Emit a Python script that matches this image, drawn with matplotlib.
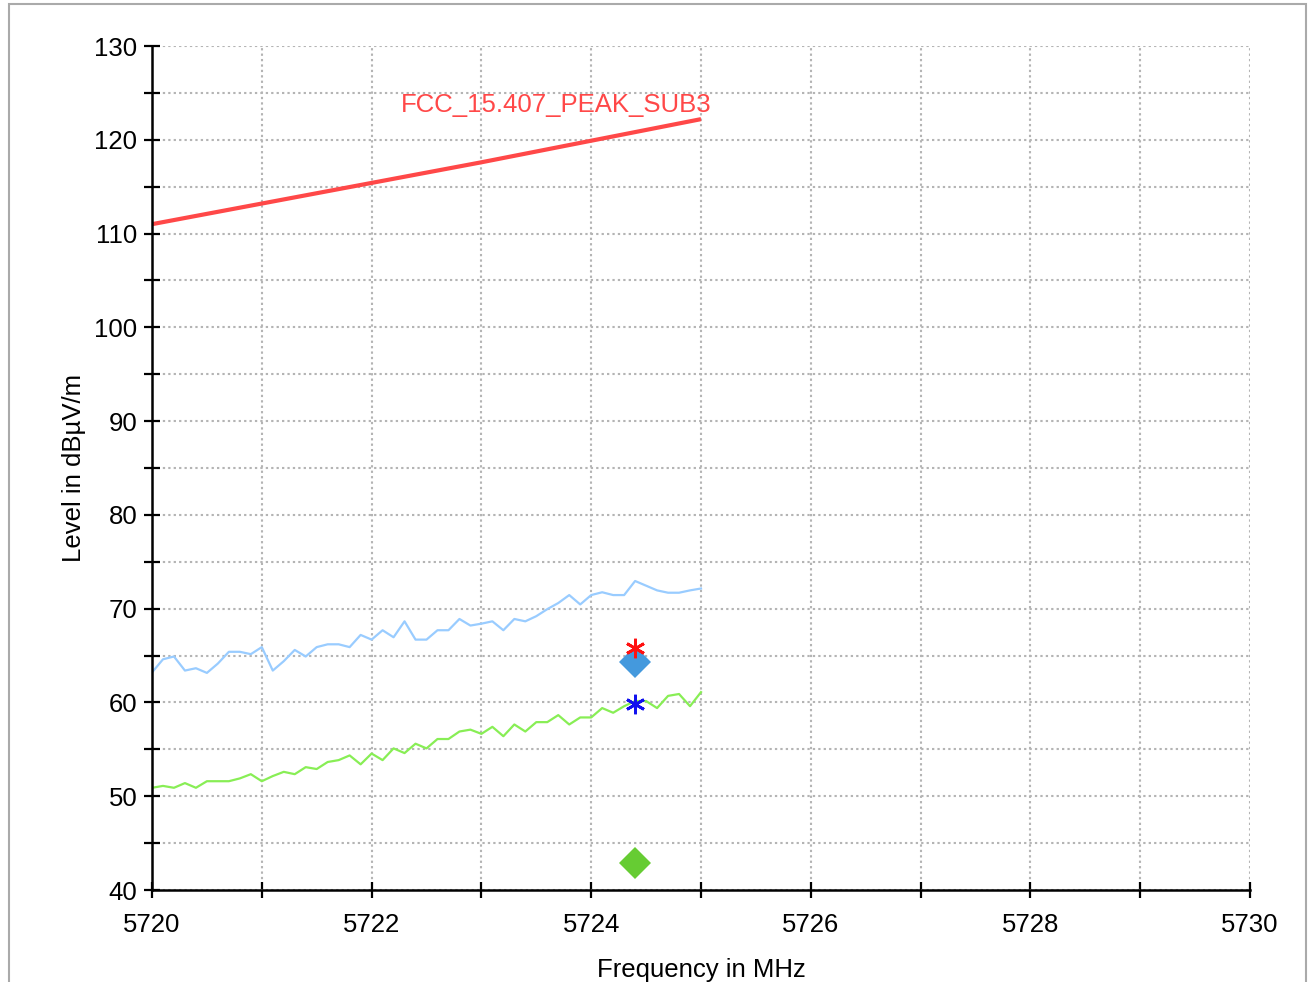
import matplotlib
matplotlib.use("Agg")
import matplotlib.pyplot as plt
from matplotlib.patches import Rectangle
from matplotlib.ticker import MultipleLocator
import numpy as np

plt.rcParams['font.family'] = ['Liberation Sans', 'DejaVu Sans']

# Frequencies (MHz) for the measured traces
freq = [5720.0 + 0.1 * i for i in range(51)]

blue_trace = [63.2, 64.6, 64.9, 63.4, 63.65, 63.15, 64.15, 65.4, 65.4, 65.15,
              65.9, 63.4, 64.4, 65.6, 64.9, 65.9, 66.2, 66.2, 65.9, 67.2,
              66.7, 67.7, 66.95, 68.65, 66.7, 66.7, 67.7, 67.7, 68.9, 68.2,
              68.4, 68.65, 67.7, 68.9, 68.65, 69.2, 69.95, 70.6, 71.45, 70.45,
              71.45, 71.75, 71.45, 71.45, 72.95, 72.45, 71.95, 71.7, 71.7, 71.95,
              72.15]

green_trace = [50.9, 51.1, 50.9, 51.4, 50.9, 51.6, 51.6, 51.6, 51.9, 52.35,
               51.6, 52.15, 52.6, 52.35, 53.1, 52.9, 53.65, 53.85, 54.35, 53.4,
               54.55, 53.85, 55.1, 54.6, 55.6, 55.1, 56.1, 56.1, 56.9, 57.1,
               56.65, 57.4, 56.4, 57.65, 56.9, 57.9, 57.9, 58.65, 57.65, 58.4,
               58.4, 59.4, 58.9, 59.6, 60.15, 60.15, 59.4, 60.7, 60.9, 59.6,
               61.1]

limit_freq = [5720.0, 5721.0, 5722.0, 5723.0, 5724.0, 5725.0]
limit_level = [111.0, 113.2, 115.4, 117.6, 119.9, 122.2]
limit_label = "FCC_15.407_PEAK_SUB3"

marker_freq = 5724.4
red_star = 65.8
blue_diamond = 64.3
blue_star = 59.8
green_diamond = 42.85

fig = plt.figure(figsize=(13.1, 9.82), dpi=100)
ax = fig.add_axes([152 / 1310, 1 - 890 / 982, (1250 - 152) / 1310, (890 - 46) / 982])

ax.set_xlim(5720, 5730)
ax.set_ylim(40, 130)

ax.xaxis.set_major_locator(MultipleLocator(2))
ax.xaxis.set_minor_locator(MultipleLocator(1))
ax.yaxis.set_major_locator(MultipleLocator(10))
ax.yaxis.set_minor_locator(MultipleLocator(5))

grid_kw = dict(color='#b4b4b4', linestyle=(0, (1.1, 1.5)), linewidth=1.5)
ax.grid(True, which='both', axis='both', **grid_kw)
ax.set_axisbelow(True)

for s in ['top', 'right']:
    ax.spines[s].set_visible(False)
for s in ['left', 'bottom']:
    ax.spines[s].set_linewidth(1.8)
    ax.spines[s].set_color('black')

ax.tick_params(which='both', direction='inout', length=11, width=1.6,
               labelsize=18.5, colors='black')
ax.tick_params(axis='y', pad=5)
ax.tick_params(axis='x', pad=11)

ax.plot(limit_freq, limit_level, color='#ff4848', linewidth=3.0, solid_capstyle='butt')
ax.text(5722.27, 122.96, limit_label, color='#ff4848', fontsize=18.5,
        ha='left', va='baseline')

ax.plot(freq, blue_trace, color='#99ccff', linewidth=1.6)
ax.plot(freq, green_trace, color='#88ee55', linewidth=1.6)

ax.plot([marker_freq], [blue_diamond], marker='D', markersize=16,
        color='#4499dd', markeredgewidth=0, linestyle='none')
ax.plot([marker_freq], [green_diamond], marker='D', markersize=16,
        color='#66cc33', markeredgewidth=0, linestyle='none')
ax.plot([marker_freq], [red_star], marker=(6, 2, 0), markersize=14,
        color='#ff1111', markeredgewidth=2.0, linestyle='none')
ax.plot([marker_freq], [blue_star], marker=(6, 2, 0), markersize=14,
        color='#1111ee', markeredgewidth=2.0, linestyle='none')

ax.set_xlabel("Frequency in MHz", fontsize=18.5, labelpad=15)
ax.set_ylabel("Level in dBµV/m", fontsize=18.5, labelpad=6)

# outer frame
fig.patches.append(Rectangle((9 / 1310, -0.02), (1306 - 9) / 1310, 1.02 - 4 / 982,
                             transform=fig.transFigure, fill=False,
                             edgecolor='#aaaaaa', linewidth=1.5))

fig.savefig("out.png", dpi=100)
